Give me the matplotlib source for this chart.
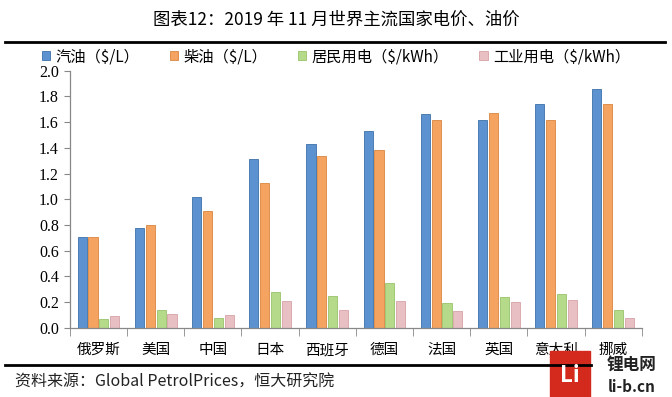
import matplotlib
matplotlib.use("Agg")
import matplotlib.pyplot as plt
from matplotlib.lines import Line2D
from matplotlib.patches import Rectangle
import numpy as np

plt.rcParams['font.family'] = ['Noto Sans CJK SC', 'DejaVu Sans']

countries = ["俄罗斯", "美国", "中国", "日本", "西班牙", "德国", "法国", "英国", "意大利", "挪威"]
gasoline = [0.71, 0.78, 1.02, 1.31, 1.43, 1.53, 1.66, 1.62, 1.74, 1.86]
diesel = [0.71, 0.80, 0.91, 1.13, 1.34, 1.38, 1.62, 1.67, 1.62, 1.74]
residential = [0.07, 0.14, 0.08, 0.28, 0.25, 0.35, 0.19, 0.24, 0.26, 0.14]
industrial = [0.09, 0.11, 0.10, 0.21, 0.14, 0.21, 0.13, 0.20, 0.22, 0.08]
series_names = ["汽油（$/L）", "柴油（$/L）", "居民用电（$/kWh）", "工业用电（$/kWh）"]
yticks = [0.0, 0.2, 0.4, 0.6, 0.8, 1.0, 1.2, 1.4, 1.6, 1.8, 2.0]

colors = ["#5B92CF", "#F4A460", "#B5DB8A", "#E8BFC2"]
edges = ["#3E70A8", "#D9853E", "#98C36A", "#D6A3A7"]

fig = plt.figure(figsize=(6.72, 3.97), dpi=100)
ax = fig.add_axes([0.104, 0.174, 0.851, 0.648])

x = np.arange(len(countries))
w = 0.16
step = 0.19
data = [gasoline, diesel, residential, industrial]
handles = []
for i, vals in enumerate(data):
    b = ax.bar(x + (i - 1.5) * step, vals, width=w, color=colors[i],
               edgecolor=edges[i], linewidth=0.6, label=series_names[i])
    handles.append(b)

ax.set_xlim(-0.5, len(countries) - 0.5)
ax.set_ylim(0, 2.0)
ax.set_yticks(yticks)
ax.set_yticklabels([f"{v:.1f}" for v in yticks], fontfamily='Liberation Serif', fontsize=11.5)
ax.set_xticks(x)
ax.set_xticklabels(countries, fontsize=10.5)
ax.set_xticks(np.arange(-0.5, len(countries), 1.0), minor=True)
ax.tick_params(axis='x', which='major', length=0, pad=11)
ax.tick_params(axis='x', which='minor', length=6, color='#888888', direction='out')
ax.tick_params(axis='y', length=4, color='#888888', direction='out', pad=4)
for s in ['top', 'right']:
    ax.spines[s].set_visible(False)
for s in ['left', 'bottom']:
    ax.spines[s].set_color('#888888')
    ax.spines[s].set_linewidth(0.9)

leg = fig.legend(handles=handles, labels=series_names, loc='center', bbox_to_anchor=(0.5, 0.857),
                 ncol=4, frameon=False, fontsize=11, handlelength=0.55, handleheight=0.55,
                 handletextpad=0.35, columnspacing=2.0)

fig.text(0.5, 0.949, "图表12：2019 年 11 月世界主流国家电价、油价", ha='center', va='center', fontsize=12.5)
fig.add_artist(Line2D([0.008, 0.99], [0.894, 0.894], color='black', linewidth=2.0, transform=fig.transFigure))
fig.add_artist(Line2D([0.008, 0.88], [0.081, 0.081], color='black', linewidth=2.0, transform=fig.transFigure))
fig.text(0.022, 0.038, "资料来源：Global PetrolPrices，恒大研究院", ha='left', va='center', fontsize=11.5,
         style='italic', color='#222222')

# watermark logo
fig.add_artist(Rectangle((0.818, 0.0), 0.06, 0.115, transform=fig.transFigure, color='#D42A1E'))
fig.text(0.848, 0.055, "Li", ha='center', va='center', fontsize=16, color='white', fontweight='bold')
fig.text(0.94, 0.08, "锂电网", ha='center', va='center', fontsize=12, fontweight='bold', color='#222222')
fig.text(0.94, 0.025, "li-b.cn", ha='center', va='center', fontsize=11, fontweight='bold', color='#222222')

fig.savefig("out.png", dpi=100)
